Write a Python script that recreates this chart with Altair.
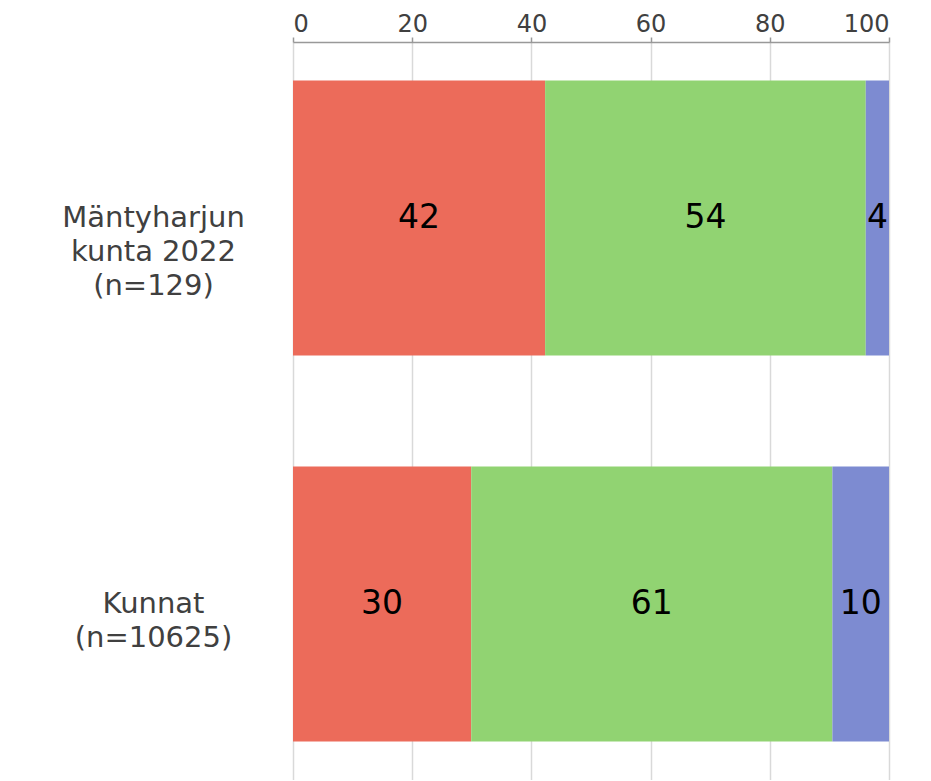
import altair as alt
import pandas as pd

groups = ["Mäntyharjun\nkunta 2022\n(n=129)", "Kunnat\n(n=10625)"]
series = ["A", "B", "C"]
colors = ["#EC6B5A", "#91D372", "#7D8BD1"]
values = [
    [42.3, 53.8, 3.9],
    [29.9, 60.6, 9.5],
]
labels = [
    ["42", "54", "4"],
    ["30", "61", "10"],
]
x_ticks = [0, 20, 40, 60, 80, 100]

rows = []
for gi, g in enumerate(groups):
    for si, s in enumerate(series):
        rows.append({"group": g, "series": s, "order": si,
                     "value": values[gi][si], "label": labels[gi][si]})
df = pd.DataFrame(rows)

FONT = "DejaVu Sans"

y_enc = alt.Y(
    "group:N",
    sort=groups,
    scale=alt.Scale(paddingInner=0.288, paddingOuter=0.1),
    axis=alt.Axis(
        title=None, ticks=False, domain=False,
        labelExpr="split(datum.label, '\\n')",
        labelAlign="center", labelPadding=140, labelLimit=0,
        labelFont=FONT, labelFontSize=29, labelColor="#404040",
        labelLineHeight=34,
    ),
)

base = alt.Chart(df)

bars = base.mark_bar().encode(
    x=alt.X(
        "value:Q",
        stack="zero",
        scale=alt.Scale(domain=[0, 100], nice=False),
        axis=alt.Axis(
            orient="top", title=None, values=x_ticks,
            grid=True, gridColor="#d9d9d9", gridWidth=1.5,
            domainColor="#999999", domainWidth=1.5,
            tickColor="#999999", tickWidth=1.5, tickSize=5,
            labelFont=FONT, labelFontSize=24, labelColor="#404040",
            labelBaseline="alphabetic", labelPadding=6,
        ),
    ),
    y=y_enc,
    color=alt.Color("series:N", scale=alt.Scale(domain=series, range=colors), legend=None),
    order=alt.Order("order:Q"),
)

text = base.mark_text(font=FONT, fontSize=33, color="black", baseline="middle").encode(
    x=alt.X("mid:Q"),
    y=alt.Y("group:N", sort=groups),
    text="label:N",
).transform_window(
    cum="sum(value)", sort=[alt.SortField("order")], groupby=["group"],
).transform_calculate(
    mid="datum.cum - datum.value / 2"
)

chart = alt.layer(bars, text).properties(
    width=596, height=738,
    autosize=alt.AutoSizeParams(type="none"),
    padding={"left": 285, "top": 34, "right": 30, "bottom": 0},
).configure_view(
    stroke="#a0a0a0", strokeWidth=1.5,
).configure(background="white")

chart.save("out.html", embed_options={"renderer": "svg", "actions": False})
